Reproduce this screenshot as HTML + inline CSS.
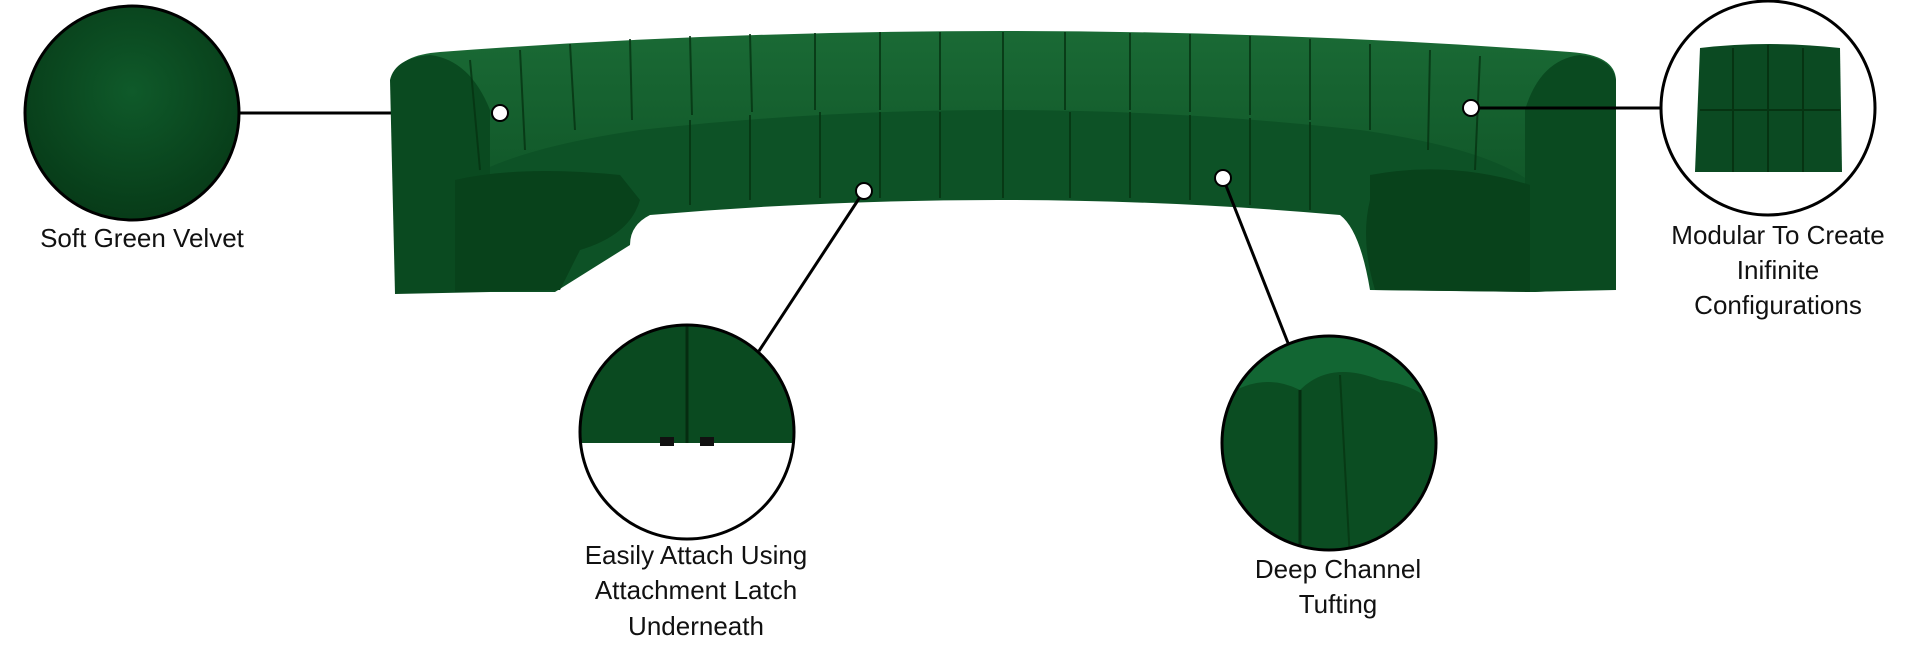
<!DOCTYPE html>
<html><head><style>
html,body{margin:0;padding:0;background:#fff;width:1920px;height:659px;overflow:hidden}
svg{display:block}
text{font-family:"Liberation Sans",sans-serif;font-size:26px;fill:#111}
</style></head><body>
<svg width="1920" height="659" viewBox="0 0 1920 659" xmlns="http://www.w3.org/2000/svg">
<defs>
<radialGradient id="vel" cx="50%" cy="40%" r="60%">
<stop offset="0" stop-color="#0f5a2a"/><stop offset="1" stop-color="#073b18"/></radialGradient>
<linearGradient id="back" x1="0" y1="0" x2="0" y2="1">
<stop offset="0" stop-color="#1a6a35"/><stop offset="1" stop-color="#0a4a20"/></linearGradient>
<clipPath id="c3"><circle cx="687" cy="432" r="107"/></clipPath>
<clipPath id="c4"><circle cx="1329" cy="443" r="107"/></clipPath>
</defs>

<circle cx="132" cy="113" r="107" fill="url(#vel)" stroke="#000" stroke-width="3"/>
<line x1="240" y1="113" x2="500" y2="113" stroke="#000" stroke-width="3"/>
<text x="142" y="247" text-anchor="middle">Soft Green Velvet</text>

<path d="M395 75 Q400 55 440 52 Q1000 10 1570 52 Q1615 55 1616 80 L1616 288 L1535 292 L1530 270 Q1460 215 1370 210 Q1000 180 640 210 Q580 215 560 240 L555 290 L460 292 Q450 290 450 280 L395 292 Z" fill="url(#back)"/>
<path d="M450 190 Q500 150 640 130 Q1000 90 1360 130 Q1500 150 1540 190 L1535 292 L1370 290 Q1360 230 1340 215 Q1000 185 650 215 Q630 225 630 245 L555 292 L455 292 Z" fill="#0d5226"/>
<path d="M390 80 Q395 58 430 55 Q470 60 490 110 L490 292 L395 294 Z" fill="#0a4a20"/>
<path d="M1616 80 Q1612 58 1580 55 Q1540 60 1525 110 L1525 292 L1616 290 Z" fill="#0a4a20"/>
<path d="M455 180 Q520 165 620 175 L640 200 Q630 235 580 250 L560 290 L455 292 Z" fill="#08421b"/>
<path d="M1370 175 Q1450 160 1530 185 L1530 292 L1375 290 Q1360 240 1370 200 Z" fill="#08421b"/>
<g stroke="#063312" stroke-width="2" opacity="0.8">
<line x1="470" y1="60" x2="480" y2="170"/><line x1="520" y1="50" x2="525" y2="150"/>
<line x1="570" y1="44" x2="575" y2="130"/><line x1="630" y1="39" x2="632" y2="120"/>
<line x1="690" y1="36" x2="692" y2="115"/><line x1="750" y1="34" x2="752" y2="112"/>
<line x1="815" y1="33" x2="815" y2="110"/><line x1="880" y1="32" x2="880" y2="110"/>
<line x1="940" y1="32" x2="940" y2="110"/><line x1="1003" y1="32" x2="1003" y2="198"/>
<line x1="1065" y1="32" x2="1065" y2="110"/><line x1="1130" y1="33" x2="1130" y2="110"/>
<line x1="1190" y1="34" x2="1190" y2="112"/><line x1="1250" y1="36" x2="1250" y2="115"/>
<line x1="1310" y1="39" x2="1310" y2="120"/><line x1="1370" y1="44" x2="1370" y2="130"/>
<line x1="1430" y1="50" x2="1428" y2="150"/><line x1="1480" y1="56" x2="1475" y2="170"/>
<line x1="690" y1="120" x2="690" y2="205"/><line x1="750" y1="115" x2="750" y2="200"/>
<line x1="820" y1="112" x2="820" y2="198"/><line x1="880" y1="112" x2="880" y2="198"/>
<line x1="940" y1="112" x2="940" y2="198"/><line x1="1070" y1="112" x2="1070" y2="198"/>
<line x1="1130" y1="112" x2="1130" y2="198"/><line x1="1190" y1="115" x2="1190" y2="200"/>
<line x1="1250" y1="118" x2="1250" y2="205"/><line x1="1310" y1="122" x2="1310" y2="210"/>
</g>
<line x1="864" y1="191" x2="759" y2="351" stroke="#000" stroke-width="3"/>
<line x1="1223" y1="178" x2="1288" y2="343" stroke="#000" stroke-width="3"/>
<line x1="1471" y1="108" x2="1660" y2="108" stroke="#000" stroke-width="3"/>
<circle cx="500" cy="113" r="8" fill="#fff" stroke="#000" stroke-width="2"/>
<circle cx="864" cy="191" r="8" fill="#fff" stroke="#000" stroke-width="2"/>
<circle cx="1223" cy="178" r="8" fill="#fff" stroke="#000" stroke-width="2"/>
<circle cx="1471" cy="108" r="8" fill="#fff" stroke="#000" stroke-width="2"/>

<circle cx="1768" cy="108" r="107" fill="#fff" stroke="#000" stroke-width="3"/>
<path d="M1700 48 Q1768 40 1840 48 L1842 172 L1695 172 Z" fill="#0b4a22"/>
<g stroke="#063312" stroke-width="2"><line x1="1733" y1="48" x2="1733" y2="172"/><line x1="1768" y1="45" x2="1768" y2="172"/><line x1="1803" y1="48" x2="1803" y2="172"/><line x1="1700" y1="110" x2="1840" y2="110"/></g>
<text x="1778" y="244" text-anchor="middle">Modular To Create</text>
<text x="1778" y="279" text-anchor="middle">Inifinite</text>
<text x="1778" y="314" text-anchor="middle">Configurations</text>

<g clip-path="url(#c3)">
<rect x="570" y="320" width="240" height="123" fill="#0a4a20"/>
<line x1="687" y1="320" x2="687" y2="443" stroke="#052c10" stroke-width="3"/>
<rect x="660" y="437" width="14" height="9" fill="#111"/><rect x="700" y="437" width="14" height="9" fill="#111"/>
</g>
<circle cx="687" cy="432" r="107" fill="none" stroke="#000" stroke-width="3"/>
<text x="696" y="564" text-anchor="middle">Easily Attach Using</text>
<text x="696" y="599" text-anchor="middle">Attachment Latch</text>
<text x="696" y="635" text-anchor="middle">Underneath</text>

<g clip-path="url(#c4)">
<rect x="1215" y="330" width="230" height="230" fill="#0b4d22"/>
<path d="M1220 400 Q1260 370 1300 390 Q1330 360 1380 380 Q1420 385 1440 410 L1440 330 L1220 330 Z" fill="#126633"/>
<path d="M1300 390 L1300 560" stroke="#052c10" stroke-width="3"/>
<path d="M1340 375 L1350 560" stroke="#073a15" stroke-width="2"/>
</g>
<circle cx="1329" cy="443" r="107" fill="none" stroke="#000" stroke-width="3"/>
<text x="1338" y="578" text-anchor="middle">Deep Channel</text>
<text x="1338" y="613" text-anchor="middle">Tufting</text>
</svg>
</body></html>
